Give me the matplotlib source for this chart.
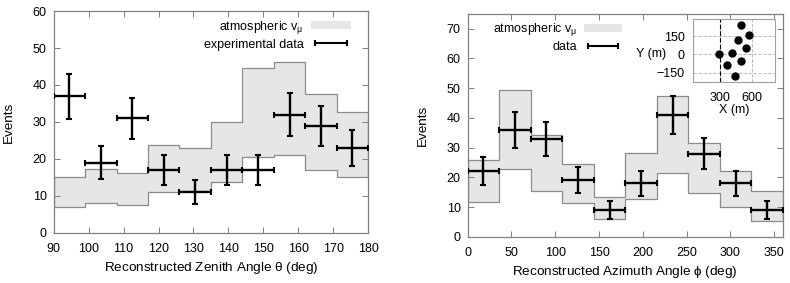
import numpy as np
import matplotlib
matplotlib.use("Agg")
import matplotlib.pyplot as plt
from matplotlib.patches import Patch
from matplotlib.lines import Line2D

plt.rcParams['font.family'] = ['Liberation Sans', 'DejaVu Sans']
plt.rcParams['mathtext.fontset'] = 'custom'
plt.rcParams['mathtext.rm'] = 'Liberation Sans'
plt.rcParams['mathtext.it'] = 'Liberation Sans'

# ---------------- Zenith panel data ----------------
zen_edges = [90, 99, 108, 117, 126, 135, 144, 153, 162, 171, 180]
zen_band_low = [7.0, 8.1, 7.6, 11.1, 11.3, 13.8, 20.4, 21.1, 17.1, 15.1]
zen_band_high = [15.1, 17.3, 16.2, 23.7, 22.9, 30.1, 44.7, 46.1, 37.5, 32.8]
zen_counts = [37, 19, 31, 17, 11, 17, 17, 32, 29, 23]
zen_errs = [6.1, 4.4, 5.6, 4.1, 3.3, 4.1, 4.1, 5.7, 5.4, 4.8]

# ---------------- Azimuth panel data ----------------
azi_edges = [0, 36, 72, 108, 144, 180, 216, 252, 288, 324, 360]
azi_band_low = [11.8, 22.7, 15.5, 11.5, 6.1, 12.9, 21.6, 14.9, 10.1, 5.4]
azi_band_high = [25.8, 49.5, 34.1, 24.6, 13.3, 28.1, 47.4, 31.7, 22.3, 15.4]
azi_counts = [22, 36, 33, 19, 9, 18, 41, 28, 18, 9]
azi_errs = [4.7, 6.0, 5.7, 4.4, 3.0, 4.2, 6.4, 5.3, 4.2, 3.0]

# ---------------- Detector layout inset ----------------
det_x = [502, 576, 470, 544, 288, 409, 502, 368, 442]
det_y = [242, 161, 123, 56, 5, 16, -52, -86, -180]
inset_xticks = [300, 600]
inset_yticks = [-150, 0, 150]
inset_ref_x = 300

zen_xticks = [90, 100, 110, 120, 130, 140, 150, 160, 170, 180]
zen_yticks = [0, 10, 20, 30, 40, 50, 60]
azi_xticks = [0, 50, 100, 150, 200, 250, 300, 350]
azi_yticks = [0, 10, 20, 30, 40, 50, 60, 70]

BAND_FACE = '#e6e6e6'
BAND_EDGE = '#8c8c8c'
FRAME = '#808080'
FS = 9
LFS = 9.7

fig = plt.figure(figsize=(7.9, 2.83), dpi=100)
ax1 = fig.add_axes([0.068, 0.177, 0.398, 0.784])
ax2 = fig.add_axes([0.592, 0.163, 0.399, 0.788])


def draw_panel(ax, edges, low, high, counts, errs):
    e = np.asarray(edges, float)
    lo = np.append(low, low[-1])
    hi = np.append(high, high[-1])
    ax.fill_between(e, lo, hi, step='post', facecolor=BAND_FACE,
                    edgecolor=BAND_EDGE, linewidth=0.9, zorder=1)
    centers = (e[:-1] + e[1:]) / 2
    half = (e[1:] - e[:-1]) / 2
    ax.errorbar(centers, counts, xerr=half, yerr=errs, fmt='none',
                ecolor='black', elinewidth=1.7, capsize=2, capthick=1.5,
                zorder=3)


def style(ax):
    for s in ax.spines.values():
        s.set_color(FRAME)
        s.set_linewidth(0.9)
    ax.tick_params(direction='in', top=True, right=True, length=4,
                   width=0.7, color=FRAME, labelsize=FS)
    ax.tick_params(axis='x', pad=7)
    ax.tick_params(axis='y', pad=5)


draw_panel(ax1, zen_edges, zen_band_low, zen_band_high, zen_counts, zen_errs)
ax1.set_xlim(90, 180)
ax1.set_ylim(0, 60)
ax1.set_xticks(zen_xticks)
ax1.set_yticks(zen_yticks)
style(ax1)
ax1.set_xlabel(r'Reconstructed Zenith Angle $\theta$ (deg)', fontsize=LFS, labelpad=4)
ax1.set_ylabel('Events', fontsize=LFS, labelpad=13)

draw_panel(ax2, azi_edges, azi_band_low, azi_band_high, azi_counts, azi_errs)
ax2.set_xlim(0, 360)
ax2.set_ylim(0, 75)
ax2.set_xticks(azi_xticks)
ax2.set_yticks(azi_yticks)
style(ax2)
ax2.set_xlabel(r'Reconstructed Azimuth Angle $\phi$ (deg)', fontsize=LFS, labelpad=4)
ax2.set_ylabel('Events', fontsize=LFS, labelpad=13)

band_handle = Patch(facecolor=BAND_FACE, edgecolor='none')
data_handle = Line2D([], [], color='black', lw=1.5, marker='|',
                     markersize=4, markeredgewidth=1.5)

ax1.legend([band_handle, data_handle],
           [r'atmospheric v$_\mu$', 'experimental data'],
           loc='upper right', bbox_to_anchor=(0.97, 1.0), frameon=False,
           markerfirst=False, fontsize=FS, handlelength=3.2,
           handleheight=0.6, labelspacing=0.25, numpoints=2,
           handletextpad=0.6, borderaxespad=0.2)
ax2.legend([band_handle, data_handle],
           [r'atmospheric v$_\mu$', 'data'],
           loc='upper left', bbox_to_anchor=(0.055, 1.0), frameon=False,
           markerfirst=False, fontsize=FS, handlelength=3.0,
           handleheight=0.6, labelspacing=0.25, numpoints=2,
           handletextpad=0.6, borderaxespad=0.2)

# inset
axi = fig.add_axes([0.877, 0.711, 0.104, 0.221])
axi.set_xlim(40, 820)
axi.set_ylim(-225, 290)
axi.set_xticks(inset_xticks)
axi.set_yticks(inset_yticks)
axi.grid(True, linestyle=(0, (4, 2)), color='#b0b0b0', linewidth=0.6)
axi.axvline(inset_ref_x, color='black', linestyle=(0, (4, 2)), linewidth=0.8)
axi.plot(det_x, det_y, 'o', color='black', markersize=5, zorder=3)
for s in axi.spines.values():
    s.set_color('#a0a0a0')
    s.set_linewidth(0.8)
axi.tick_params(length=0, labelsize=FS)
axi.tick_params(axis='y', pad=6)
axi.tick_params(axis='x', pad=7)
axi.set_xlabel('X (m)', fontsize=FS, labelpad=0)
axi.text(-0.32, 0, 'Y (m)', transform=axi.get_yaxis_transform(),
         ha='right', va='center', fontsize=FS)
axi.set_facecolor('white')

fig.savefig('out.png', dpi=100)
